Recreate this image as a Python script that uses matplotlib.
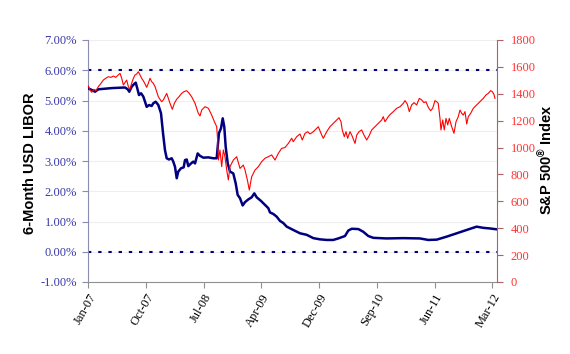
import matplotlib
matplotlib.use("Agg")
import matplotlib.pyplot as plt
from matplotlib.ticker import FuncFormatter, MultipleLocator

# ---- data (x in decimal years) ----
sp_t = [2007.000, 2007.022, 2007.043, 2007.073, 2007.098, 2007.128, 2007.162, 2007.192,
        2007.222, 2007.256, 2007.290, 2007.320, 2007.350, 2007.384, 2007.405, 2007.427,
        2007.448, 2007.469, 2007.490, 2007.512, 2007.533, 2007.554, 2007.576, 2007.597,
        2007.618, 2007.639, 2007.661, 2007.682, 2007.703, 2007.725, 2007.746, 2007.767,
        2007.789, 2007.810, 2007.831, 2007.853, 2007.874, 2007.895, 2007.916, 2007.938,
        2007.959, 2007.980, 2008.002, 2008.023, 2008.044, 2008.074, 2008.100, 2008.129,
        2008.159, 2008.193, 2008.223, 2008.257, 2008.287, 2008.321, 2008.364, 2008.406,
        2008.428, 2008.449, 2008.492, 2008.534, 2008.577, 2008.611, 2008.641, 2008.653,
        2008.662, 2008.683, 2008.705, 2008.726, 2008.747, 2008.769, 2008.790, 2008.811,
        2008.854, 2008.896, 2008.939, 2008.981, 2009.003, 2009.033, 2009.058, 2009.088,
        2009.131, 2009.173, 2009.216, 2009.258, 2009.301, 2009.344, 2009.386, 2009.429,
        2009.471, 2009.514, 2009.557, 2009.599, 2009.620, 2009.664, 2009.706, 2009.735,
        2009.770, 2009.804, 2009.834, 2009.876, 2009.919, 2009.940, 2009.983, 2010.004,
        2010.047, 2010.089, 2010.131, 2010.175, 2010.204, 2010.230, 2010.246, 2010.272,
        2010.294, 2010.315, 2010.345, 2010.367, 2010.409, 2010.431, 2010.460, 2010.494,
        2010.524, 2010.558, 2010.588, 2010.622, 2010.664, 2010.707, 2010.750, 2010.770,
        2010.792, 2010.834, 2010.856, 2010.898, 2010.942, 2010.984, 2011.026, 2011.048,
        2011.077, 2011.103, 2011.133, 2011.163, 2011.197, 2011.231, 2011.261, 2011.290,
        2011.316, 2011.346, 2011.376, 2011.402, 2011.431, 2011.453, 2011.473, 2011.495,
        2011.508, 2011.530, 2011.550, 2011.572, 2011.594, 2011.614, 2011.645, 2011.674,
        2011.700, 2011.729, 2011.751, 2011.772, 2011.793, 2011.815, 2011.837, 2011.857,
        2011.888, 2011.921, 2011.964, 2012.006, 2012.049, 2012.083, 2012.112, 2012.143,
        2012.164, 2012.183, 2012.198]
sp_v = [1458, 1428, 1411, 1433, 1423, 1453, 1478, 1502,
        1515, 1527, 1522, 1532, 1522, 1540, 1552, 1515,
        1465, 1483, 1502, 1453, 1433, 1478, 1515, 1540,
        1547, 1564, 1540, 1515, 1497, 1473, 1448, 1478,
        1515, 1490, 1478, 1453, 1416, 1378, 1359, 1341,
        1354, 1378, 1403, 1366, 1329, 1284, 1329, 1359,
        1378, 1403, 1416, 1423, 1405, 1378, 1329, 1255,
        1235, 1279, 1304, 1292, 1242, 1193, 1155, 1056,
        907, 982, 858, 982, 932, 833, 759, 858,
        907, 932, 845, 870, 833, 759, 684, 783,
        833, 858, 895, 920, 932, 945, 907, 957,
        994, 1000, 1031, 1069, 1044, 1081, 1101, 1056,
        1106, 1118, 1101, 1118, 1143, 1155, 1093, 1069,
        1118, 1155, 1180, 1205, 1222, 1192, 1131, 1081,
        1118, 1069, 1118, 1093, 1031, 1093, 1118, 1131,
        1093, 1056, 1086, 1131, 1155, 1180, 1205, 1230,
        1192, 1230, 1245, 1267, 1292, 1304, 1329, 1349,
        1324, 1267, 1317, 1334, 1317, 1366, 1354, 1334,
        1341, 1299, 1274, 1292, 1349, 1341, 1329, 1217,
        1131, 1205, 1131, 1217, 1168, 1217, 1155, 1106,
        1192, 1230, 1279, 1255, 1242, 1267, 1175, 1230,
        1255, 1292, 1317, 1341, 1366, 1391, 1403, 1423,
        1416, 1398, 1366]

libor_t = [2007.000, 2007.043, 2007.086, 2007.128, 2007.213, 2007.299, 2007.383, 2007.469,
           2007.504, 2007.524, 2007.555, 2007.588, 2007.606, 2007.626, 2007.648, 2007.674,
           2007.703, 2007.725, 2007.746, 2007.776, 2007.810, 2007.831, 2007.861, 2007.895,
           2007.929, 2007.955, 2007.980, 2008.002, 2008.031, 2008.066, 2008.086, 2008.108,
           2008.130, 2008.150, 2008.185, 2008.219, 2008.236, 2008.258, 2008.278, 2008.313,
           2008.342, 2008.364, 2008.398, 2008.428, 2008.470, 2008.534, 2008.598, 2008.641,
           2008.654, 2008.670, 2008.696, 2008.718, 2008.738, 2008.756, 2008.782, 2008.811,
           2008.853, 2008.884, 2008.909, 2008.939, 2008.973, 2009.003, 2009.045, 2009.088,
           2009.122, 2009.152, 2009.207, 2009.258, 2009.301, 2009.322, 2009.364, 2009.408,
           2009.450, 2009.492, 2009.536, 2009.620, 2009.706, 2009.791, 2009.876, 2009.961,
           2010.047, 2010.131, 2010.195, 2010.281, 2010.323, 2010.367, 2010.451, 2010.515,
           2010.579, 2010.643, 2010.814, 2011.026, 2011.239, 2011.346, 2011.453, 2011.581,
           2011.709, 2011.836, 2011.964, 2012.049, 2012.134, 2012.224]
libor_v = [5.40, 5.35, 5.29, 5.37, 5.39, 5.41, 5.42, 5.43,
           5.37, 5.29, 5.46, 5.55, 5.59, 5.40, 5.18, 5.24,
           5.13, 4.96, 4.79, 4.85, 4.82, 4.91, 4.96, 4.85,
           4.58, 3.92, 3.36, 3.09, 3.05, 3.09, 2.98, 2.81,
           2.43, 2.65, 2.76, 2.79, 3.03, 3.05, 2.83, 2.92,
           2.98, 2.92, 3.25, 3.17, 3.11, 3.12, 3.09, 3.09,
           3.47, 3.92, 4.08, 4.41, 4.13, 3.47, 2.92, 2.65,
           2.59, 2.26, 1.88, 1.77, 1.53, 1.64, 1.73, 1.80,
           1.93, 1.80, 1.68, 1.55, 1.44, 1.30, 1.25, 1.16,
           1.02, 0.95, 0.83, 0.72, 0.61, 0.56, 0.45, 0.41,
           0.39, 0.39, 0.44, 0.52, 0.70, 0.76, 0.75, 0.66,
           0.52, 0.46, 0.44, 0.45, 0.44, 0.39, 0.40, 0.50,
           0.61, 0.72, 0.83, 0.79, 0.77, 0.74]

ref_levels = [6.0, 0.0]

tick_pos = [2007.000, 2007.738, 2008.476, 2009.213, 2009.951, 2010.689, 2011.427, 2012.164]
tick_lab = ["Jan-07", "Oct-07", "Jul-08", "Apr-09", "Dec-09", "Sep-10", "Jun-11", "Mar-12"]

# ---- figure ----
W, H = 570, 354
fig = plt.figure(figsize=(W / 100, H / 100), dpi=100)
ax = fig.add_axes([88 / W, 1 - 282 / H, (497 - 88) / W, 242 / H])
ax2 = ax.twinx()

navy = "#000080"
red = "#ff0000"
lblue = "#3a3aaa"
lred = "#ff3333"
serif = "Liberation Serif"

ax.set_ylim(-1, 7)
ax.yaxis.set_major_locator(MultipleLocator(1))
ax.yaxis.set_major_formatter(FuncFormatter(lambda v, p: f"{v:.2f}%"))
ax.set_xlim(2006.996, 2012.224)
ax.grid(axis="y", color="#eeeeee", lw=0.8)
ax.set_axisbelow(True)

for lv in ref_levels:
    ax.axhline(lv, color=navy, lw=1.5, linestyle=(0, (1.6, 3.3)), zorder=2)
ax.plot(libor_t, libor_v, color=navy, lw=1.8, zorder=3, solid_joinstyle="round")

ax2.set_ylim(0, 1800)
ax2.yaxis.set_major_locator(MultipleLocator(200))
ax2.plot(sp_t, sp_v, color=red, lw=0.8, zorder=4)

ax.set_xticks(tick_pos)
ax.set_xticklabels(tick_lab, rotation=60, ha="right", rotation_mode="anchor",
                   fontfamily=serif, fontsize=9, color="black")

for a in (ax, ax2):
    a.spines["top"].set_visible(False)
ax.spines["left"].set_color("#8c8cb0")
ax.spines["bottom"].set_color("#909090")
ax.spines["right"].set_visible(False)
ax2.spines["left"].set_visible(False)
ax2.spines["bottom"].set_visible(False)
ax2.spines["right"].set_color("#b06060")

ax.tick_params(axis="y", colors="#8c8cb0", labelcolor=lblue, length=4, width=0.8,
               labelsize=9, pad=4)
ax.tick_params(axis="x", colors="#909090", labelcolor="black", length=4, width=0.8, pad=3)
ax2.tick_params(axis="y", colors="#b06060", labelcolor=lred, length=4, width=0.8,
                labelsize=9, pad=6)
for lab in ax.get_yticklabels() + ax2.get_yticklabels():
    lab.set_fontfamily(serif)

plt.rcParams["mathtext.fontset"] = "custom"
plt.rcParams["mathtext.rm"] = "Liberation Sans:bold"
plt.rcParams["mathtext.it"] = "Liberation Sans:bold"
plt.rcParams["mathtext.bf"] = "Liberation Sans:bold"

fig.text(30 / W, 1 - 163 / H, "6-Month USD LIBOR", rotation=90, ha="center", va="center",
         fontfamily="Liberation Sans", fontweight="bold", fontsize=10.5)
fig.text(546 / W, 1 - 160 / H, "S&P 500$^{\\mathrm{®}}$ Index", rotation=90, ha="center",
         va="center", fontfamily="Liberation Sans", fontweight="bold", fontsize=10.5)

fig.savefig("out.png", dpi=100)
